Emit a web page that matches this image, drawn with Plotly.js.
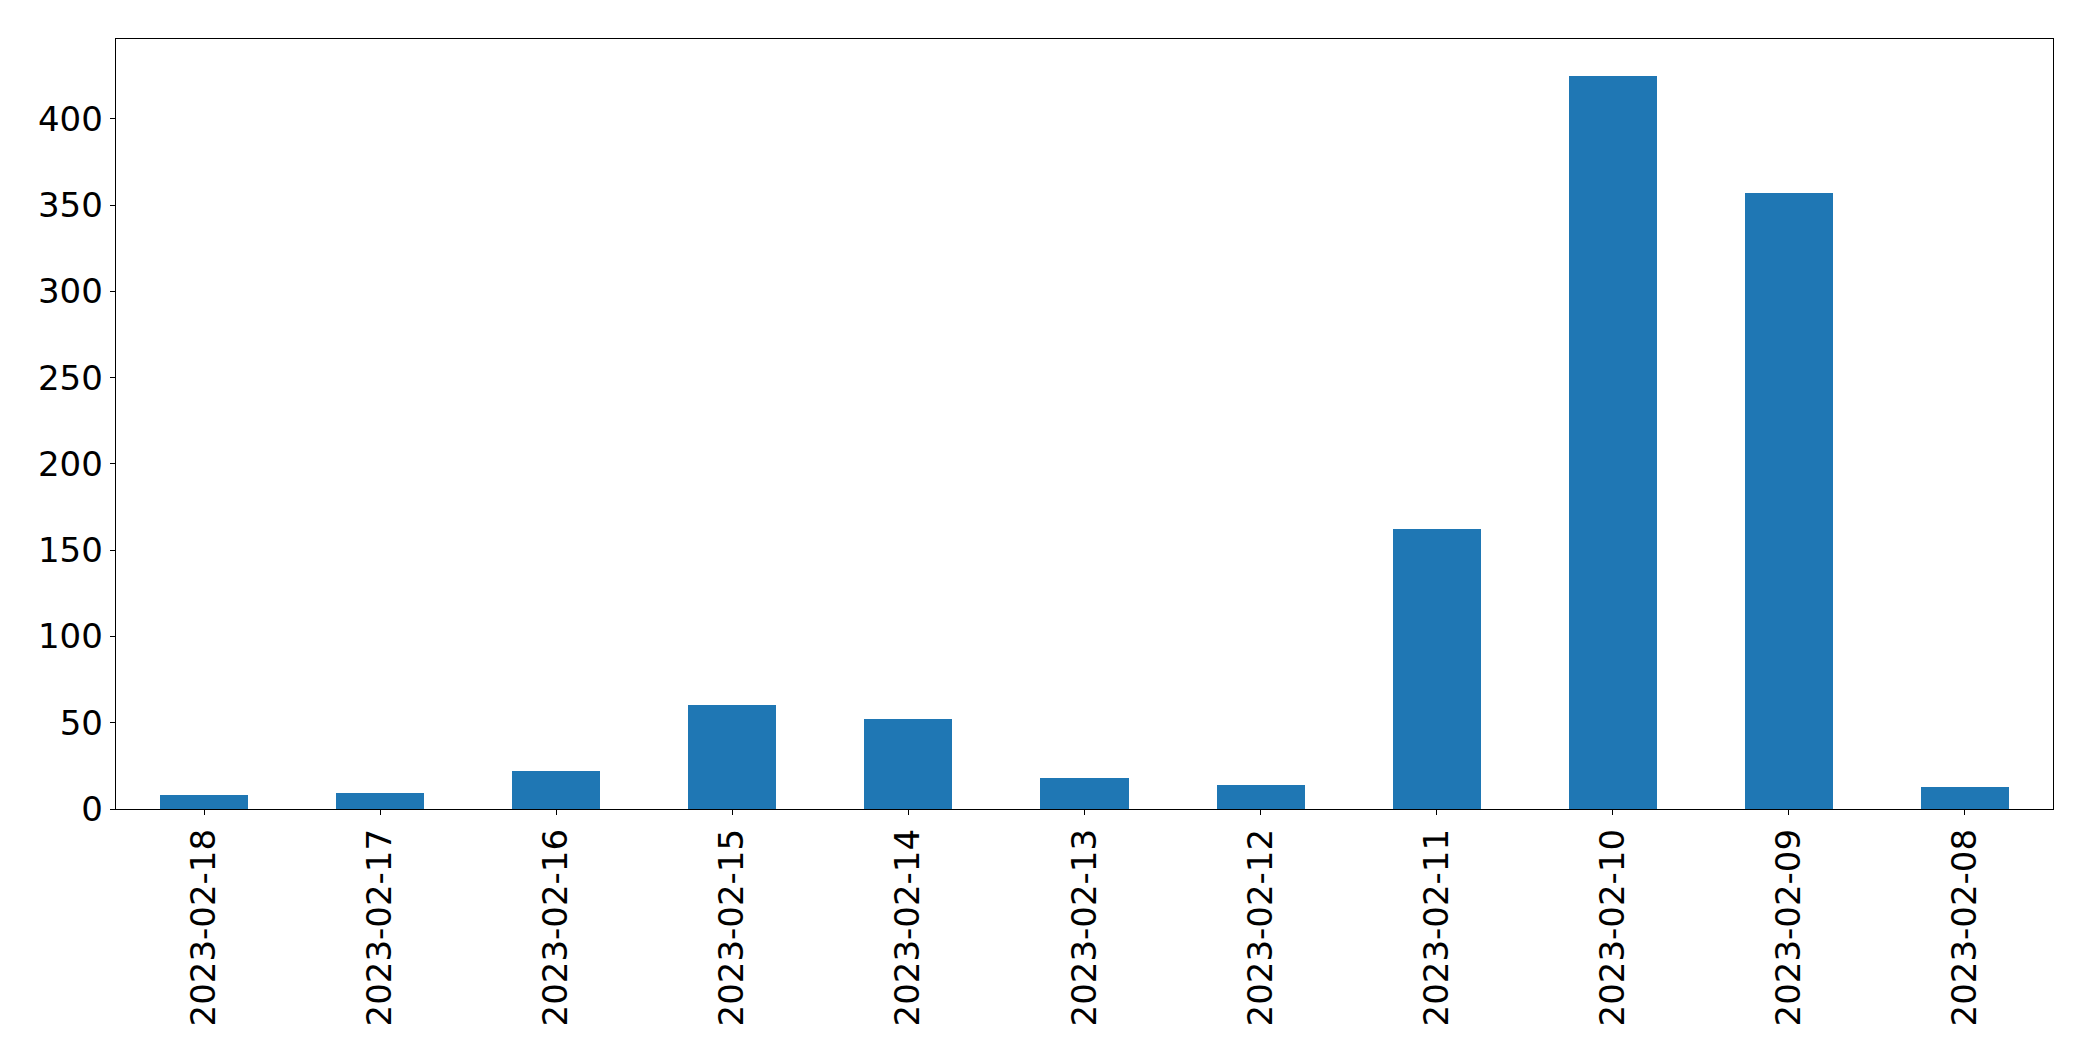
<!DOCTYPE html>
<html>
<head>
<meta charset="utf-8">
<script src="https://cdn.plot.ly/plotly-3.0.1.min.js"></script>
<style>html,body{margin:0;padding:0;background:#fff;}#chart{width:2093px;height:1061px;}</style>
</head>
<body>
<div id="chart"></div>
<script>
const dates = ["2023-02-18","2023-02-17","2023-02-16","2023-02-15","2023-02-14","2023-02-13","2023-02-12","2023-02-11","2023-02-10","2023-02-09","2023-02-08"];
const counts = [8, 9, 22, 60, 52, 18, 14, 162, 425, 357, 13];
const yTicks = [0, 50, 100, 150, 200, 250, 300, 350, 400];

const trace = {
  type: 'bar',
  x: dates,
  y: counts,
  width: 0.5,
  marker: {color: '#1f77b4', line: {width: 0}},
  hoverinfo: 'x+y'
};

const axisFont = {family: 'DejaVu Sans, sans-serif', size: 34, color: '#000'};
const layout = {
  width: 2093,
  height: 1061,
  margin: {l: 116, r: 40, t: 39, b: 252, pad: 0},
  paper_bgcolor: '#fff',
  plot_bgcolor: '#fff',
  showlegend: false,
  bargap: 0,
  xaxis: {
    type: 'category',
    range: [-0.5, dates.length - 0.5],
    tickangle: -90,
    tickfont: axisFont,
    ticks: 'outside',
    ticklen: 5,
    tickwidth: 1,
    tickcolor: '#000',
    showline: true,
    linecolor: '#000',
    linewidth: 1.3,
    mirror: true,
    showgrid: false,
    zeroline: false,
    automargin: false
  },
  yaxis: {
    range: [0, 446.25],
    tickvals: yTicks,
    ticktext: yTicks.map(String),
    tickfont: axisFont,
    ticks: 'outside',
    ticklen: 5,
    tickwidth: 1,
    tickcolor: '#000',
    showline: true,
    linecolor: '#000',
    linewidth: 1.3,
    mirror: true,
    showgrid: false,
    zeroline: false,
    automargin: false
  }
};

Plotly.newPlot('chart', [trace], layout, {displayModeBar: false, staticPlot: true});
</script>
</body>
</html>
